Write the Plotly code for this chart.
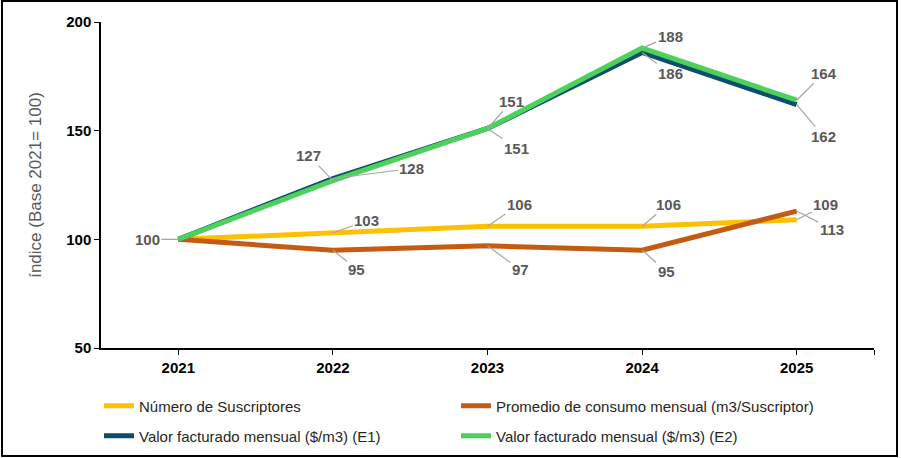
import plotly.graph_objects as go

years = ["2021", "2022", "2023", "2024", "2025"]
suscriptores = [100, 103, 106, 106, 109]
consumo = [100, 95, 97, 95, 113]
valor_e1 = [100, 128, 151, 186, 162]
valor_e2 = [100, 127, 151, 188, 164]
y_ticks = [50, 100, 150, 200]

names = ["Número de Suscriptores",
         "Promedio de consumo mensual (m3/Suscriptor)",
         "Valor facturado mensual ($/m3) (E1)",
         "Valor facturado mensual ($/m3) (E2)"]
series = [suscriptores, consumo, valor_e1, valor_e2]
colors = ["#FFC000", "#C55A11", "#0E4D6C", "#4CD25A"]
legends = ["legend", "legend", "legend2", "legend2"]

# label offsets in pixels (dx, dy) per series per point; None = hidden
offsets = [
    [(-31, 0), (34, -12), (32, -22), (26, -22), (29, -15)],
    [None, (24, 19), (33, 24), (24, 21), (35, 18)],
    [None, (79, -10), (29, 20), (28, 21), (27, 32)],
    [None, (-24, -25), (24, -27), (28, -12), (27, -27)],
]

W, H = 901, 458
ML, MR, MT, MB = 101, 27, 22, 110
PW, PH = W - ML - MR, H - MT - MB

fig = go.Figure()
xs = list(range(len(years)))
for name, vals, col, lg in zip(names, series, colors, legends):
    fig.add_trace(go.Scatter(x=xs, y=vals, mode="lines", name=name,
                             line=dict(color=col, width=5), legend=lg,
                             hoverinfo="skip"))

annotations = []
for vals, offs in zip(series, offsets):
    for i, (v, o) in enumerate(zip(vals, offs)):
        if o is None:
            continue
        annotations.append(dict(
            x=i, y=v, xref="x", yref="y", text="<b>" + str(v) + "</b>",
            showarrow=True, arrowhead=0, arrowwidth=1.2, arrowcolor="#A6A6A6",
            ax=o[0], ay=o[1], standoff=0,
            font=dict(family="Liberation Sans, Arial", size=15, color="#595959"),
        ))


def px2x(px):
    return (px - ML) / PW


def py2y(py):
    return (H - MB - py) / PH


shapes = [dict(type="rect", xref="paper", yref="paper",
               x0=px2x(2), x1=px2x(897), y0=py2y(456), y1=py2y(1),
               line=dict(color="black", width=2), fillcolor="rgba(0,0,0,0)")]

legend_font = dict(family="Liberation Sans, Arial", size=15, color="#262626")
fig.update_layout(
    width=W, height=H,
    margin=dict(l=ML, r=MR, t=MT, b=MB),
    paper_bgcolor="white", plot_bgcolor="white",
    showlegend=True,
    legend=dict(orientation="h", x=99 / W, xref="container", xanchor="left",
                y=(H - 406) / H, yref="container", yanchor="middle",
                entrywidth=312, entrywidthmode="pixels", font=legend_font,
                bgcolor="rgba(0,0,0,0)", tracegroupgap=0),
    legend2=dict(orientation="h", x=99 / W, xref="container", xanchor="left",
                 y=(H - 436) / H, yref="container", yanchor="middle",
                 entrywidth=312, entrywidthmode="pixels", font=legend_font,
                 bgcolor="rgba(0,0,0,0)", tracegroupgap=0),
    annotations=annotations,
    shapes=shapes,
    xaxis=dict(range=[-0.5, 4.5], tickvals=xs + [4.5], ticktext=years + [""],
               showgrid=False, zeroline=False, showline=True, linecolor="black", linewidth=1.5,
               ticks="outside", ticklen=5, tickcolor="black", tickwidth=1.2, automargin=False,
               tickfont=dict(family="Liberation Sans, Arial", size=15, color="black", weight="bold")),
    yaxis=dict(range=[50, 200], tickvals=y_ticks, showgrid=False, zeroline=False,
               showline=True, linecolor="black", linewidth=1.5, automargin=False,
               ticks="outside", ticklen=5, tickcolor="black", tickwidth=1.2,
               tickfont=dict(family="Liberation Sans, Arial", size=15, color="black", weight="bold"),
               title=dict(text="índice (Base 2021= 100)", standoff=20,
                          font=dict(family="Liberation Sans, Arial", size=17, color="#595959"))),
)

fig.write_html("out.html", config={"displayModeBar": False},
               post_script="document.body.style.margin='0px';")
